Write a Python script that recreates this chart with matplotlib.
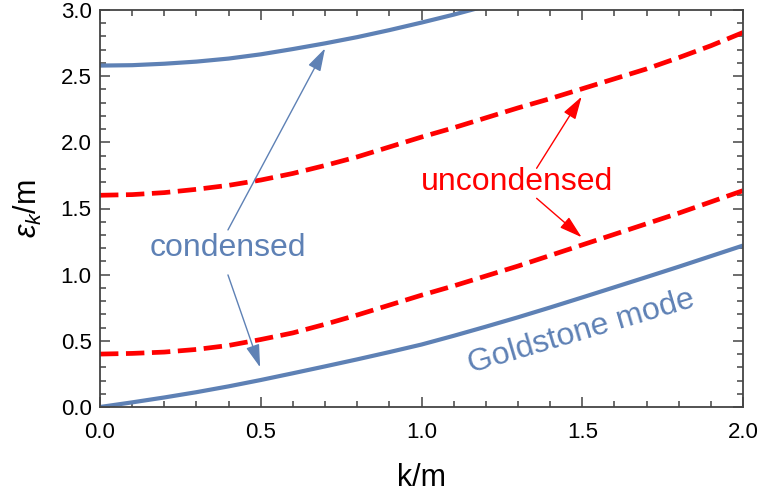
import numpy as np
import matplotlib
matplotlib.use("Agg")
import matplotlib.pyplot as plt

plt.rcParams['font.family'] = ['Liberation Sans', 'DejaVu Sans']
plt.rcParams['mathtext.fontset'] = 'custom'
plt.rcParams['mathtext.rm'] = 'Liberation Sans'
plt.rcParams['mathtext.it'] = 'Liberation Sans:italic'

# values
k = [0.0, 0.1, 0.2, 0.3, 0.4, 0.5, 0.6, 0.7, 0.8, 0.9, 1.0,
     1.1, 1.2, 1.3, 1.4, 1.5, 1.6, 1.7, 1.8, 1.9, 2.0]

k_upper = [0.0, 0.1, 0.2, 0.3, 0.4, 0.5, 0.6, 0.7, 0.8, 0.9, 1.0, 1.1, 1.2]
condensed_upper = [2.58, 2.583, 2.594, 2.61, 2.633, 2.665, 2.705, 2.748,
                   2.795, 2.848, 2.905, 2.965, 3.03]

goldstone = [0.0, 0.035, 0.072, 0.112, 0.156, 0.204, 0.255, 0.307, 0.36,
             0.415, 0.472, 0.538, 0.607, 0.678, 0.752, 0.828, 0.905, 0.982,
             1.06, 1.14, 1.22]

uncondensed_upper = [1.60, 1.605, 1.62, 1.645, 1.675, 1.715, 1.765, 1.825,
                     1.89, 1.965, 2.04, 2.11, 2.185, 2.26, 2.33, 2.405, 2.48,
                     2.555, 2.64, 2.73, 2.83]

uncondensed_lower = [0.40, 0.405, 0.415, 0.435, 0.465, 0.51, 0.56, 0.625,
                     0.695, 0.77, 0.845, 0.915, 0.99, 1.065, 1.145, 1.225,
                     1.305, 1.385, 1.465, 1.55, 1.635]

blue = '#5E81B5'
red = '#FF0000'
frame = '#444444'

fig = plt.figure(figsize=(7.61, 5.0), dpi=100)
ax = fig.add_axes([0.1314, 0.186, 0.845, 0.794])

ax.plot(k_upper, condensed_upper, color=blue, lw=3, solid_capstyle='butt')
ax.plot(k, goldstone, color=blue, lw=3, solid_capstyle='butt')
ax.plot(k, uncondensed_upper, color=red, lw=3.4, linestyle=(0, (3.9, 1.6)))
ax.plot(k, uncondensed_lower, color=red, lw=3.4, linestyle=(0, (3.9, 1.6)))

ax.set_xlim(0, 2)
ax.set_ylim(0, 3)
ax.set_xticks([0, 0.5, 1.0, 1.5, 2.0])
ax.set_yticks([0, 0.5, 1.0, 1.5, 2.0, 2.5, 3.0])
ax.set_xticklabels(['0.0', '0.5', '1.0', '1.5', '2.0'])
ax.set_yticklabels(['0.0', '0.5', '1.0', '1.5', '2.0', '2.5', '3.0'])
ax.set_xticks(np.arange(0, 2.01, 0.1), minor=True)
ax.set_yticks(np.arange(0, 3.01, 0.1), minor=True)
ax.tick_params(which='both', direction='in', top=True, right=True, color=frame, width=1.1)
ax.tick_params(which='major', length=7, labelsize=16)
ax.tick_params(which='minor', length=4)
ax.tick_params(axis='x', which='major', pad=11)
ax.tick_params(axis='y', which='major', pad=6)
for s in ax.spines.values():
    s.set_color(frame)
    s.set_linewidth(1.3)

ax.set_xlabel('k/m', fontsize=22, labelpad=14)
ax.set_ylabel(r'$\varepsilon_k$/m', fontsize=22, labelpad=12)

# annotations
ax.text(0.398, 1.20, 'condensed', color=blue, fontsize=23, ha='center', va='center')
ax.text(1.296, 1.70, 'uncondensed', color=red, fontsize=23, ha='center', va='center')
ax.text(1.496, 0.57, 'Goldstone mode', color=blue, fontsize=23, ha='center',
        va='center', rotation=16.5, rotation_mode='anchor')

def arrow(tip, start, color):
    ax.annotate('', xy=tip, xytext=start,
                arrowprops=dict(arrowstyle='-|>,head_length=1.4,head_width=0.42',
                                color=color, lw=1, shrinkA=0, shrinkB=0,
                                mutation_scale=10))

arrow((0.70, 2.71), (0.398, 1.338), blue)
arrow((0.498, 0.30), (0.398, 0.998), blue)
arrow((1.498, 2.345), (1.358, 1.804), red)
arrow((1.498, 1.283), (1.358, 1.577), red)

fig.savefig('out.png', dpi=100)
